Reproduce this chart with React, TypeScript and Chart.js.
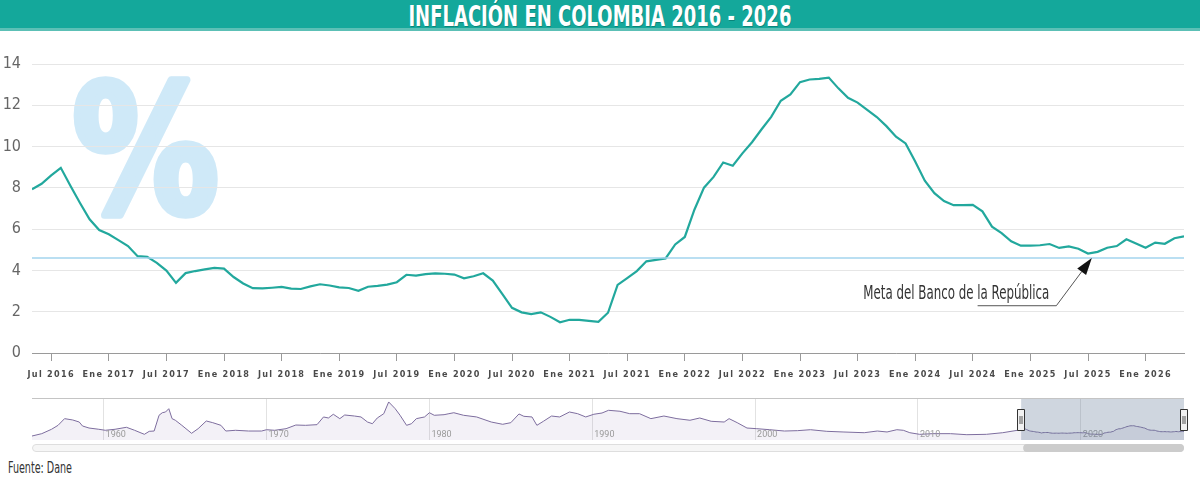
import React, { useEffect, useRef } from 'react';
import { Chart, registerables } from 'chart.js';

Chart.register(...registerables);

const TITLE = 'INFLACIÓN EN COLOMBIA 2016 - 2026';
const SOURCE = 'Fuente: Dane';
const TARGET_LABEL = 'Meta del Banco de la República';

const NARROW = "'Liberation Sans Narrow', 'DejaVu Sans Condensed', Roboto, sans-serif";

const monthNames = ['Ene', 'Feb', 'Mar', 'Abr', 'May', 'Jun', 'Jul', 'Ago', 'Sep', 'Oct', 'Nov', 'Dic'];

// Monthly categories: Abr 2016 ... Abr 2026 (each point plotted at month end)
const categories: string[] = [];
for (let yr = 2016; yr <= 2026; yr++) {
  for (let m = 0; m < 12; m++) {
    if ((yr === 2016 && m < 3) || (yr === 2026 && m > 3)) continue;
    categories.push(`${monthNames[m]} ${yr}`);
  }
}

// Annual inflation (%), Abr 2016 - Abr 2026
const inflation = [
  7.93, 8.2, 8.6, 8.97, 8.1, 7.27, 6.48, 5.96, 5.75,
  5.47, 5.18, 4.69, 4.66, 4.37, 3.99, 3.4, 3.87, 3.97, 4.05, 4.12, 4.09,
  3.68, 3.37, 3.14, 3.13, 3.16, 3.2, 3.12, 3.1, 3.23, 3.33, 3.27, 3.18,
  3.15, 3.01, 3.21, 3.25, 3.31, 3.43, 3.79, 3.75, 3.82, 3.86, 3.84, 3.8,
  3.62, 3.72, 3.86, 3.51, 2.85, 2.19, 1.97, 1.88, 1.97, 1.75, 1.49, 1.61,
  1.6, 1.56, 1.51, 1.95, 3.3, 3.63, 3.97, 4.44, 4.51, 4.58, 5.26, 5.62,
  6.94, 8.01, 8.53, 9.23, 9.07, 9.67, 10.21, 10.84, 11.44, 12.22, 12.53, 13.12,
  13.25, 13.28, 13.34, 12.82, 12.36, 12.13, 11.78, 11.43, 10.99, 10.48, 10.15, 9.28,
  8.35, 7.74, 7.36, 7.16, 7.16, 7.18, 6.86, 6.12, 5.81, 5.41, 5.2, 5.2,
  5.22, 5.28, 5.09, 5.16, 5.05, 4.82, 4.9, 5.1, 5.18, 5.51, 5.3, 5.1,
  5.35, 5.29, 5.56, 5.65,
];

const targetRate = 4.6;

const xTickLabels = [
  'Jul 2016', 'Ene 2017', 'Jul 2017', 'Ene 2018', 'Jul 2018', 'Ene 2019', 'Jul 2019',
  'Ene 2020', 'Jul 2020', 'Ene 2021', 'Jul 2021', 'Ene 2022', 'Jul 2022', 'Ene 2023',
  'Jul 2023', 'Ene 2024', 'Jul 2024', 'Ene 2025', 'Jul 2025', 'Ene 2026',
];
const yTickValues = [0, 2, 4, 6, 8, 10, 12, 14];

// Navigator: long history (year, %)
const navYears = [
  1955.6, 1956.2, 1956.8, 1957.2, 1957.6, 1958.1, 1958.5, 1958.7, 1959.1, 1959.7,
  1960.1, 1960.7, 1961.4, 1961.9, 1962.5, 1962.8, 1963.1, 1963.4, 1963.6, 1963.8,
  1964.0, 1964.2, 1964.4, 1964.8, 1965.4, 1965.8, 1966.3, 1966.7, 1967.2, 1967.5,
  1968.1, 1968.9, 1969.7, 1970.0, 1970.5, 1971.2, 1971.8, 1972.4, 1973.1, 1973.5,
  1973.8, 1974.1, 1974.5, 1974.8, 1975.4, 1975.8, 1976.2, 1976.5, 1976.8, 1977.2,
  1977.5, 1977.9, 1978.2, 1978.6, 1978.9, 1979.2, 1979.7, 1980.0, 1980.3, 1980.9,
  1981.2, 1981.5, 1982.1, 1982.9, 1983.8, 1984.5, 1985.0, 1985.5, 1985.8, 1986.3,
  1986.6, 1987.0, 1987.5, 1988.0, 1988.6, 1989.1, 1989.6, 1990.1, 1990.6, 1991.0,
  1991.7, 1992.3, 1992.9, 1993.6, 1994.4, 1995.2, 1996.0, 1996.6, 1997.3, 1998.1,
  1998.4, 1998.9, 1999.5, 2000.1, 2000.9, 2001.8, 2002.6, 2003.4, 2004.4, 2005.4,
  2006.7, 2007.5, 2008.1, 2008.7, 2009.1, 2009.5, 2010.1, 2010.9, 2012.0, 2013.0,
  2014.2, 2015.2,
];
const navValues = [
  -0.7, 2.5, 8.5, 13.9, 23.0, 21.2, 18.4, 13.0, 10.2, 8.5,
  7.1, 8.5, 11.2, 7.1, 1.6, 5.7, 6.1, 27.6, 31.1, 32.1,
  36.6, 23.0, 20.8, 13.9, 3.0, 9.3, 19.8, 17.5, 13.9, 6.1,
  7.1, 6.1, 6.1, 7.9, 7.1, 9.3, 14.3, 13.9, 14.8, 25.3,
  23.9, 29.0, 23.0, 28.0, 26.6, 25.3, 18.4, 16.1, 23.9, 29.8,
  45.8, 36.6, 27.6, 13.9, 16.1, 23.0, 25.3, 31.1, 27.6, 28.4,
  29.8, 31.1, 27.6, 25.3, 18.4, 15.3, 17.5, 29.4, 26.2, 25.3,
  13.9, 19.4, 26.6, 25.3, 32.1, 29.8, 25.3, 29.0, 30.7, 34.4,
  33.1, 29.8, 29.8, 23.0, 26.6, 23.0, 20.8, 23.9, 19.4, 18.4,
  23.0, 17.5, 10.2, 9.3, 7.9, 6.1, 6.6, 7.9, 5.7, 4.8,
  3.8, 6.1, 4.8, 7.9, 7.1, 3.8, 1.6, 2.5, 2.5, 1.1,
  1.6, 3.8,
];
const navTickYears = [1960, 1970, 1980, 1990, 2000, 2010, 2020];

// helpers (no data here)
const tickValueOf = (label: string) => {
  const [mName, yStr] = label.split(' ');
  return (Number(yStr) - 2016) * 12 + monthNames.indexOf(mName) - 4;
};
const xTickValues = xTickLabels.map(tickValueOf);
const mainYearOf = (i: number) => 2016 + (4 + i) / 12;

function textWidth(text: string, font: string) {
  const c = document.createElement('canvas').getContext('2d');
  if (!c) return 100;
  c.font = font;
  return c.measureText(text).width;
}

const watermarkPlugin = {
  id: 'watermark',
  beforeDraw(chart: any) {
    const { ctx, chartArea } = chart;
    const stroke = 7;
    const boxX = chartArea.left + 41 + stroke / 2;
    const boxY = chartArea.top + 11 + stroke / 2;
    const boxW = 145 - stroke;
    const boxH = 143 - stroke;
    ctx.save();
    ctx.font = `bold 200px ${NARROW}`;
    const m = ctx.measureText('%');
    const gw = m.actualBoundingBoxLeft + m.actualBoundingBoxRight;
    const gh = m.actualBoundingBoxAscent + m.actualBoundingBoxDescent;
    const sx = boxW / gw;
    const sy = boxH / gh;
    ctx.translate(boxX, boxY);
    ctx.scale(sx, sy);
    ctx.fillStyle = '#cfe9f8';
    ctx.strokeStyle = '#cfe9f8';
    ctx.lineJoin = 'round';
    ctx.lineWidth = stroke / Math.min(sx, sy);
    ctx.textBaseline = 'alphabetic';
    ctx.textAlign = 'left';
    ctx.fillText('%', m.actualBoundingBoxLeft, m.actualBoundingBoxAscent);
    ctx.strokeText('%', m.actualBoundingBoxLeft, m.actualBoundingBoxAscent);
    ctx.restore();
  },
};

const annotationPlugin = {
  id: 'targetAnnotation',
  afterDatasetsDraw(chart: any) {
    const { ctx, scales } = chart;
    const xs = scales.x;
    const ys = scales.y;
    ctx.save();
    const font = `20px ${NARROW}`;
    ctx.font = font;
    const w = ctx.measureText(TARGET_LABEL).width;
    const tx = xs.getPixelForValue(86.6);
    const ty = ys.getPixelForValue(2.6);
    ctx.save();
    ctx.translate(tx, ty);
    ctx.scale(186 / w, 1);
    ctx.fillStyle = '#333';
    ctx.textBaseline = 'alphabetic';
    ctx.fillText(TARGET_LABEL, 0, 0);
    ctx.restore();
    const ux0 = xs.getPixelForValue(98.5);
    const ux1 = xs.getPixelForValue(106.7);
    const uy = ys.getPixelForValue(2.29);
    const tipX = xs.getPixelForValue(110.4);
    const tipY = ys.getPixelForValue(targetRate);
    const dx = tipX - ux1;
    const dy = tipY - uy;
    const len = Math.sqrt(dx * dx + dy * dy);
    const ux = dx / len;
    const uyv = dy / len;
    const headLen = 17;
    const headW = 5.5;
    const bx = tipX - ux * headLen;
    const by = tipY - uyv * headLen;
    ctx.strokeStyle = '#555';
    ctx.lineWidth = 1;
    ctx.beginPath();
    ctx.moveTo(ux0, uy);
    ctx.lineTo(ux1, uy);
    ctx.lineTo(bx, by);
    ctx.stroke();
    ctx.fillStyle = '#111';
    ctx.beginPath();
    ctx.moveTo(tipX, tipY);
    ctx.lineTo(bx - uyv * headW, by + ux * headW);
    ctx.lineTo(bx + uyv * headW, by - ux * headW);
    ctx.closePath();
    ctx.fill();
    ctx.restore();
    // letter spacing for x tick labels (drawn on a later layer)
    ctx.letterSpacing = '1.3px';
  },
  afterDraw(chart: any) {
    chart.ctx.letterSpacing = '0px';
  },
};

const navigatorPlugin = {
  id: 'navigatorDecor',
  afterDatasetsDraw(chart: any) {
    const { ctx, chartArea, scales } = chart;
    const xScale = scales.x;
    ctx.save();
    ctx.font = '9px Roboto, sans-serif';
    ctx.fillStyle = '#9a9a9a';
    ctx.textBaseline = 'alphabetic';
    ctx.textAlign = 'left';
    xScale.ticks.forEach((t: any) => {
      ctx.fillText(String(t.value), xScale.getPixelForValue(t.value) + 2, chartArea.bottom - 3);
    });
    ctx.restore();
  },
  afterDraw(chart: any) {
    const { ctx, chartArea, scales } = chart;
    const { left, right, top, bottom } = chartArea;
    const xs = scales.x.getPixelForValue(mainYearOf(0));
    const xe = scales.x.getPixelForValue(mainYearOf(inflation.length - 1));
    ctx.save();
    ctx.fillStyle = 'rgba(95,120,150,0.3)';
    ctx.fillRect(xs, top, xe - xs, bottom - top);
    ctx.strokeStyle = '#c4c4c4';
    ctx.lineWidth = 1;
    ctx.beginPath();
    ctx.moveTo(left, top + 0.5);
    ctx.lineTo(right, top + 0.5);
    ctx.stroke();
    [xs, xe].forEach((hx) => {
      const hx0 = Math.round(hx) - 3.5;
      ctx.fillStyle = '#f2f2f2';
      ctx.strokeStyle = '#333';
      ctx.lineWidth = 1;
      ctx.beginPath();
      ctx.rect(hx0, top + 11.5, 7, 21);
      ctx.fill();
      ctx.stroke();
      ctx.strokeStyle = '#555';
      ctx.beginPath();
      ctx.moveTo(hx0 + 2.5, top + 18);
      ctx.lineTo(hx0 + 2.5, top + 26);
      ctx.moveTo(hx0 + 4.5, top + 18);
      ctx.lineTo(hx0 + 4.5, top + 26);
      ctx.stroke();
    });
    ctx.fillStyle = '#f6f6f6';
    ctx.strokeStyle = '#dedede';
    ctx.beginPath();
    ctx.roundRect(left + 0.5, bottom + 4.5, right - left - 1, 7, 4);
    ctx.fill();
    ctx.stroke();
    ctx.fillStyle = '#cccccc';
    ctx.beginPath();
    ctx.roundRect(xs + 2, bottom + 4, xe - xs - 2, 8, 4);
    ctx.fill();
    ctx.restore();
  },
};

export default function App() {
  const mainRef = useRef<HTMLCanvasElement | null>(null);
  const navRef = useRef<HTMLCanvasElement | null>(null);

  useEffect(() => {
    if (!mainRef.current || !navRef.current) return;

    const main = new Chart(mainRef.current, {
      type: 'line',
      data: {
        datasets: [
          {
            label: 'Meta',
            data: [
              { x: 0, y: targetRate },
              { x: categories.length - 1, y: targetRate },
            ],
            borderColor: '#a3d5ee',
            borderWidth: 1.5,
            pointRadius: 0,
          },
          {
            label: 'Inflación',
            data: inflation.map((v, i) => ({ x: i, y: v })),
            borderColor: '#22a89d',
            borderWidth: 2.2,
            pointRadius: 0,
            tension: 0,
          },
        ],
      },
      options: {
        animation: false,
        responsive: false,
        maintainAspectRatio: false,
        layout: { padding: { top: 33, right: 16, left: 0, bottom: 0 } },
        plugins: { legend: { display: false }, tooltip: { enabled: false } },
        scales: {
          x: {
            type: 'linear',
            min: 0,
            max: categories.length - 1,
            afterBuildTicks: (s: any) => {
              s.ticks = xTickValues.map((v) => ({ value: v }));
            },
            afterFit: (s: any) => {
              s.height = 33;
            },
            ticks: {
              autoSkip: false,
              maxRotation: 0,
              padding: 8,
              color: '#4a4a4a',
              font: { family: NARROW, size: 9, weight: 'bold' },
              callback: (v: any) => xTickLabels[xTickValues.indexOf(Number(v))] ?? '',
              z: 1,
            },
            grid: { drawOnChartArea: false, drawTicks: true, tickLength: 8, color: '#9a9a9a' },
            border: { color: '#9a9a9a', width: 1 },
          },
          y: {
            min: 0,
            max: 14,
            afterBuildTicks: (s: any) => {
              s.ticks = yTickValues.map((v) => ({ value: v }));
            },
            afterFit: (s: any) => {
              s.width = 32;
            },
            ticks: {
              padding: 11,
              color: '#666',
              font: { family: NARROW, size: 16, weight: '300' },
            },
            grid: { color: '#e6e6e6', drawTicks: false },
            border: { display: false },
          },
        },
      } as any,
      plugins: [watermarkPlugin, annotationPlugin],
    });

    const navData = [
      ...navYears.map((yr, i) => ({ x: yr, y: navValues[i] })),
      ...inflation.map((v, i) => ({ x: mainYearOf(i), y: v })),
    ];

    const nav = new Chart(navRef.current, {
      type: 'line',
      data: {
        datasets: [
          {
            data: navData,
            borderColor: '#7d6d9e',
            borderWidth: 1,
            pointRadius: 0,
            fill: 'start',
            backgroundColor: 'rgba(140,115,180,0.1)',
          },
        ],
      },
      options: {
        animation: false,
        responsive: false,
        maintainAspectRatio: false,
        layout: { padding: { top: 6, left: 32, right: 16, bottom: 18 } },
        plugins: { legend: { display: false }, tooltip: { enabled: false } },
        scales: {
          x: {
            type: 'linear',
            min: navYears[0],
            max: mainYearOf(inflation.length - 1),
            afterBuildTicks: (s: any) => {
              s.ticks = navTickYears.map((v) => ({ value: v }));
            },
            afterFit: (s: any) => {
              s.height = 0;
            },
            ticks: { display: false, autoSkip: false },
            grid: { color: '#e2e2e2', drawTicks: false },
            border: { display: false },
          },
          y: { display: false, min: -6.15, max: 51.2 },
        },
      } as any,
      plugins: [navigatorPlugin],
    });

    return () => {
      main.destroy();
      nav.destroy();
    };
  }, []);

  const titleFont = `bold 28px ${NARROW}`;
  const titleScale = 383 / textWidth(TITLE, titleFont);
  const sourceFont = `15px ${NARROW}`;
  const sourceScale = 64 / textWidth(SOURCE, sourceFont);

  return (
    <div style={{ position: 'absolute', left: 0, top: 0, width: 1200, height: 480, background: '#fff', overflow: 'hidden' }}>
      <div
        style={{
          position: 'absolute', left: 0, top: 0, width: 1200, height: 28,
          background: '#14a89b', borderBottom: '3px solid #5cc0b6',
        }}
      >
        <div style={{ position: 'absolute', left: 0, top: 3, width: 1200, textAlign: 'center', lineHeight: '28px' }}>
          <span
            style={{
              display: 'inline-block', color: '#fff', font: titleFont, lineHeight: '28px',
              transform: `scaleX(${titleScale})`, whiteSpace: 'nowrap',
              textShadow: '1px 1px 0 rgba(0,90,80,0.45)',
            }}
          >
            {TITLE}
          </span>
        </div>
      </div>
      <canvas ref={mainRef} width={1200} height={355} style={{ position: 'absolute', left: 0, top: 31, display: 'block' }} />
      <canvas ref={navRef} width={1200} height={66} style={{ position: 'absolute', left: 0, top: 392, display: 'block' }} />
      <div
        style={{
          position: 'absolute', left: 8, top: 460, font: sourceFont, lineHeight: '16px', color: '#333',
          transform: `scaleX(${sourceScale})`, transformOrigin: 'left center', whiteSpace: 'nowrap',
        }}
      >
        {SOURCE}
      </div>
    </div>
  );
}
